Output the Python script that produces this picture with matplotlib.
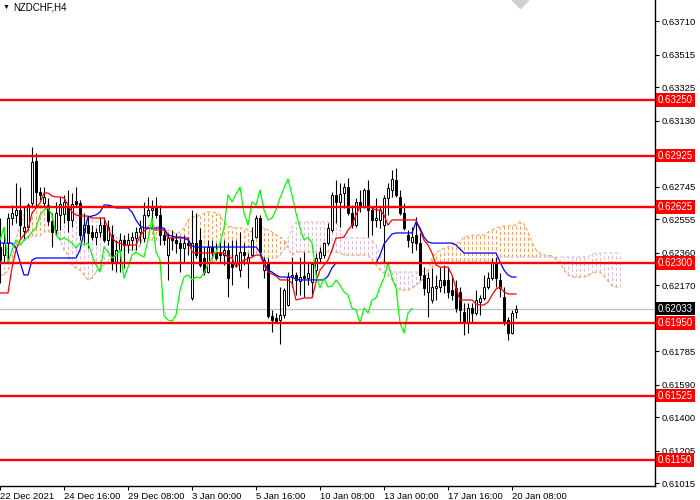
import numpy as np
import matplotlib.pyplot as plt
from matplotlib.transforms import blended_transform_factory

plt.rcParams['font.family'] = ['Liberation Sans', 'DejaVu Sans']

symbol = "NZDCHF,H4"

# H4 candles, bar 0 = 22 Dec 2021 00:00
opens = [
    0.62392, 0.62345, 0.62415, 0.62561, 0.62579, 0.62608, 0.62485, 0.62509, 0.62649, 0.62894,
    0.62713, 0.62649, 0.62637, 0.62544, 0.62491, 0.62579, 0.62585, 0.62626, 0.62550, 0.62661,
    0.62649, 0.62480, 0.62520, 0.62480, 0.62450, 0.62480, 0.62520, 0.62433, 0.62462, 0.62299,
    0.62375, 0.62433, 0.62404, 0.62433, 0.62445, 0.62480, 0.62445, 0.62579, 0.62608, 0.62620,
    0.62579, 0.62462, 0.62345, 0.62445, 0.62433, 0.62415, 0.62386, 0.62415, 0.62095, 0.62415,
    0.62433, 0.62328, 0.62246, 0.62392, 0.62363, 0.62363, 0.62345, 0.62375, 0.62305, 0.62305,
    0.62258, 0.62363, 0.62305, 0.62345, 0.62450, 0.62561, 0.62258, 0.62305, 0.61990, 0.61978,
    0.61966, 0.61995, 0.62054, 0.62217, 0.62229, 0.62194, 0.62223, 0.62211, 0.62188, 0.62258,
    0.62328, 0.62345, 0.62415, 0.62491, 0.62696, 0.62655, 0.62707, 0.62742, 0.62590, 0.62520,
    0.62655, 0.62626, 0.62725, 0.62608, 0.62550, 0.62550, 0.62520, 0.62678, 0.62725, 0.62783,
    0.62684, 0.62590, 0.62462, 0.62421, 0.62462, 0.62415, 0.62229, 0.62130, 0.62083, 0.62153,
    0.62159, 0.62200, 0.62200, 0.62141, 0.62153, 0.62130, 0.62013, 0.61955, 0.62036, 0.62007,
    0.62071, 0.62095, 0.62159, 0.62211, 0.62305, 0.62200, 0.62100, 0.61966, 0.61890, 0.62013,
]
highs = [
    0.62561, 0.62503, 0.62590, 0.62637, 0.62766, 0.62742, 0.62626, 0.62649, 0.62975, 0.62941,
    0.62742, 0.62742, 0.62678, 0.62590, 0.62655, 0.62684, 0.62696, 0.62725, 0.62707, 0.62742,
    0.62666, 0.62590, 0.62567, 0.62520, 0.62503, 0.62567, 0.62567, 0.62550, 0.62520, 0.62433,
    0.62474, 0.62462, 0.62474, 0.62480, 0.62509, 0.62550, 0.62655, 0.62684, 0.62666, 0.62684,
    0.62637, 0.62503, 0.62474, 0.62491, 0.62474, 0.62445, 0.62462, 0.62450, 0.62608, 0.62590,
    0.62503, 0.62392, 0.62433, 0.62433, 0.62415, 0.62433, 0.62433, 0.62415, 0.62433, 0.62433,
    0.62480, 0.62415, 0.62357, 0.62509, 0.62579, 0.62579, 0.62334, 0.62328, 0.62025, 0.62007,
    0.62159, 0.62153, 0.62246, 0.62334, 0.62246, 0.62334, 0.62363, 0.62299, 0.62299, 0.62357,
    0.62392, 0.62421, 0.62532, 0.62713, 0.62783, 0.62766, 0.62766, 0.62795, 0.62637, 0.62678,
    0.62725, 0.62736, 0.62783, 0.62626, 0.62678, 0.62626, 0.62696, 0.62766, 0.62841, 0.62853,
    0.62725, 0.62649, 0.62491, 0.62509, 0.62567, 0.62474, 0.62275, 0.62246, 0.62270, 0.62229,
    0.62275, 0.62287, 0.62275, 0.62217, 0.62200, 0.62159, 0.62065, 0.62065, 0.62065, 0.62141,
    0.62112, 0.62229, 0.62246, 0.62328, 0.62334, 0.62240, 0.62159, 0.61984, 0.62025, 0.62054,
]
lows = [
    0.62182, 0.62305, 0.62299, 0.62520, 0.62532, 0.62450, 0.62433, 0.62491, 0.62626, 0.62626,
    0.62666, 0.62626, 0.62520, 0.62392, 0.62462, 0.62491, 0.62532, 0.62480, 0.62509, 0.62626,
    0.62433, 0.62415, 0.62386, 0.62433, 0.62404, 0.62450, 0.62421, 0.62404, 0.62258, 0.62246,
    0.62246, 0.62270, 0.62357, 0.62375, 0.62375, 0.62415, 0.62421, 0.62567, 0.62509, 0.62561,
    0.62404, 0.62404, 0.62200, 0.62375, 0.62357, 0.62246, 0.62305, 0.62345, 0.62083, 0.62328,
    0.62275, 0.62229, 0.62240, 0.62328, 0.62316, 0.62305, 0.62287, 0.62100, 0.62170, 0.62275,
    0.62217, 0.62287, 0.62153, 0.62334, 0.62445, 0.62345, 0.62211, 0.61978, 0.61896, 0.61955,
    0.61826, 0.61978, 0.62048, 0.62159, 0.62112, 0.62112, 0.62100, 0.62170, 0.62100, 0.62200,
    0.62299, 0.62328, 0.62404, 0.62480, 0.62532, 0.62509, 0.62620, 0.62579, 0.62503, 0.62509,
    0.62596, 0.62620, 0.62450, 0.62462, 0.62509, 0.62503, 0.62299, 0.62579, 0.62684, 0.62684,
    0.62579, 0.62491, 0.62392, 0.62357, 0.62375, 0.62200, 0.62112, 0.61984, 0.62065, 0.62083,
    0.62130, 0.62124, 0.62095, 0.62083, 0.62013, 0.61955, 0.61879, 0.61890, 0.61955, 0.61995,
    0.61995, 0.62083, 0.62147, 0.62200, 0.62159, 0.62100, 0.61937, 0.61850, 0.61885, 0.61978,
]
closes = [
    0.62316, 0.62415, 0.62561, 0.62590, 0.62608, 0.62520, 0.62509, 0.62637, 0.62888, 0.62713,
    0.62696, 0.62684, 0.62544, 0.62480, 0.62590, 0.62643, 0.62655, 0.62550, 0.62643, 0.62643,
    0.62462, 0.62520, 0.62474, 0.62450, 0.62480, 0.62520, 0.62433, 0.62509, 0.62299, 0.62375,
    0.62433, 0.62404, 0.62433, 0.62450, 0.62480, 0.62503, 0.62579, 0.62608, 0.62620, 0.62579,
    0.62462, 0.62433, 0.62445, 0.62433, 0.62415, 0.62386, 0.62415, 0.62404, 0.62415, 0.62345,
    0.62287, 0.62246, 0.62392, 0.62363, 0.62328, 0.62345, 0.62375, 0.62211, 0.62275, 0.62345,
    0.62363, 0.62345, 0.62334, 0.62433, 0.62561, 0.62363, 0.62316, 0.61990, 0.61966, 0.61960,
    0.61995, 0.62141, 0.62217, 0.62229, 0.62200, 0.62217, 0.62211, 0.62240, 0.62293, 0.62328,
    0.62363, 0.62415, 0.62503, 0.62696, 0.62655, 0.62701, 0.62742, 0.62590, 0.62520, 0.62655,
    0.62637, 0.62725, 0.62608, 0.62550, 0.62561, 0.62608, 0.62678, 0.62736, 0.62789, 0.62696,
    0.62590, 0.62503, 0.62433, 0.62450, 0.62415, 0.62229, 0.62153, 0.62211, 0.62159, 0.62165,
    0.62200, 0.62170, 0.62130, 0.62112, 0.62036, 0.62025, 0.61949, 0.62036, 0.62007, 0.62083,
    0.62095, 0.62159, 0.62211, 0.62299, 0.62211, 0.62153, 0.61949, 0.61890, 0.62007, 0.62033,
]

# Ichimoku lines
tenkan = [
    0.62124, 0.62124, 0.62124, 0.62270, 0.62375, 0.62433, 0.62462, 0.62491, 0.62590, 0.62620,
    0.62649, 0.62707, 0.62707, 0.62690, 0.62684, 0.62684, 0.62678, 0.62637, 0.62596, 0.62579,
    0.62573, 0.62573, 0.62573, 0.62561, 0.62561, 0.62561, 0.62561, 0.62503, 0.62445, 0.62421,
    0.62415, 0.62404, 0.62404, 0.62404, 0.62404, 0.62456, 0.62485, 0.62503, 0.62497, 0.62491,
    0.62491, 0.62491, 0.62445, 0.62445, 0.62445, 0.62445, 0.62445, 0.62445, 0.62363, 0.62357,
    0.62357, 0.62357, 0.62357, 0.62357, 0.62357, 0.62357, 0.62357, 0.62334, 0.62328, 0.62275,
    0.62299, 0.62316, 0.62322, 0.62334, 0.62345, 0.62345, 0.62287, 0.62246, 0.62235, 0.62223,
    0.62200, 0.62200, 0.62200, 0.62182, 0.62083, 0.62089, 0.62095, 0.62095, 0.62095, 0.62188,
    0.62258, 0.62287, 0.62316, 0.62375, 0.62445, 0.62445, 0.62450, 0.62491, 0.62520, 0.62579,
    0.62626, 0.62626, 0.62626, 0.62620, 0.62608, 0.62608, 0.62579, 0.62520, 0.62550, 0.62550,
    0.62550, 0.62550, 0.62550, 0.62550, 0.62550, 0.62491, 0.62433, 0.62404, 0.62357, 0.62287,
    0.62275, 0.62275, 0.62275, 0.62229, 0.62153, 0.62083, 0.62083, 0.62083, 0.62083, 0.62060,
    0.62054, 0.62054, 0.62071, 0.62112, 0.62147, 0.62159, 0.62130, 0.62118, 0.62118, 0.62118,
]
kijun = [
    0.62415, 0.62415, 0.62415, 0.62415, 0.62386, 0.62305, 0.62229, 0.62229, 0.62316, 0.62328,
    0.62328, 0.62328, 0.62328, 0.62328, 0.62328, 0.62328, 0.62328, 0.62328, 0.62328, 0.62328,
    0.62375, 0.62480, 0.62567, 0.62573, 0.62579, 0.62596, 0.62637, 0.62637, 0.62631, 0.62620,
    0.62620, 0.62620, 0.62620, 0.62596, 0.62550, 0.62515, 0.62503, 0.62503, 0.62503, 0.62503,
    0.62503, 0.62503, 0.62462, 0.62456, 0.62450, 0.62450, 0.62445, 0.62433, 0.62398, 0.62392,
    0.62392, 0.62392, 0.62392, 0.62392, 0.62392, 0.62392, 0.62392, 0.62392, 0.62392, 0.62392,
    0.62392, 0.62392, 0.62392, 0.62392, 0.62392, 0.62363, 0.62305, 0.62258, 0.62246, 0.62229,
    0.62217, 0.62217, 0.62217, 0.62217, 0.62205, 0.62200, 0.62200, 0.62200, 0.62200, 0.62200,
    0.62200, 0.62200, 0.62223, 0.62270, 0.62299, 0.62299, 0.62299, 0.62299, 0.62299, 0.62299,
    0.62299, 0.62299, 0.62299, 0.62299, 0.62299, 0.62345, 0.62410, 0.62439, 0.62468, 0.62474,
    0.62474, 0.62474, 0.62474, 0.62474, 0.62538, 0.62503, 0.62450, 0.62421, 0.62415, 0.62415,
    0.62415, 0.62415, 0.62415, 0.62415, 0.62404, 0.62380, 0.62357, 0.62357, 0.62357, 0.62357,
    0.62357, 0.62357, 0.62357, 0.62357, 0.62357, 0.62305, 0.62258, 0.62229, 0.62217, 0.62217,
]
span_a = [
    0.62229, 0.62229, 0.62258, 0.62305, 0.62433, 0.62520, 0.62579, 0.62620, 0.62637, 0.62637,
    0.62637, 0.62626, 0.62608, 0.62561, 0.62520, 0.62433, 0.62375, 0.62345, 0.62287, 0.62270,
    0.62258, 0.62229, 0.62200, 0.62211, 0.62246, 0.62270, 0.62287, 0.62305, 0.62328, 0.62345,
    0.62363, 0.62375, 0.62375, 0.62375, 0.62375, 0.62398, 0.62480, 0.62515, 0.62520, 0.62520,
    0.62509, 0.62491, 0.62491, 0.62480, 0.62468, 0.62480, 0.62503, 0.62550, 0.62567, 0.62567,
    0.62579, 0.62590, 0.62596, 0.62596, 0.62590, 0.62579, 0.62538, 0.62515, 0.62509, 0.62503,
    0.62503, 0.62503, 0.62491, 0.62480, 0.62491, 0.62503, 0.62503, 0.62491, 0.62480, 0.62462,
    0.62450, 0.62433, 0.62386, 0.62345, 0.62363, 0.62363, 0.62363, 0.62363, 0.62363, 0.62363,
    0.62363, 0.62363, 0.62363, 0.62363, 0.62363, 0.62357, 0.62345, 0.62345, 0.62345, 0.62345,
    0.62345, 0.62345, 0.62345, 0.62316, 0.62287, 0.62258, 0.62240, 0.62229, 0.62200, 0.62165,
    0.62141, 0.62141, 0.62141, 0.62153, 0.62170, 0.62188, 0.62211, 0.62246, 0.62328, 0.62357,
    0.62375, 0.62386, 0.62392, 0.62404, 0.62415, 0.62421, 0.62450, 0.62456, 0.62462, 0.62462,
    0.62462, 0.62462, 0.62480, 0.62491, 0.62503, 0.62509, 0.62515, 0.62515, 0.62520, 0.62520,
    0.62538, 0.62526, 0.62480, 0.62421, 0.62375, 0.62357, 0.62345, 0.62345, 0.62340, 0.62322,
    0.62299, 0.62258, 0.62229, 0.62217, 0.62217, 0.62217, 0.62217, 0.62223, 0.62240, 0.62246,
    0.62246, 0.62223, 0.62194, 0.62165, 0.62159, 0.62159,
]
span_b = [
    0.62375, 0.62375, 0.62386, 0.62404, 0.62404, 0.62404, 0.62433, 0.62445, 0.62456, 0.62456,
    0.62456, 0.62480, 0.62480, 0.62491, 0.62579, 0.62590, 0.62590, 0.62590, 0.62590, 0.62590,
    0.62590, 0.62579, 0.62561, 0.62550, 0.62538, 0.62538, 0.62520, 0.62503, 0.62480, 0.62456,
    0.62433, 0.62433, 0.62433, 0.62433, 0.62433, 0.62433, 0.62433, 0.62433, 0.62433, 0.62433,
    0.62433, 0.62433, 0.62433, 0.62427, 0.62421, 0.62421, 0.62421, 0.62404, 0.62375, 0.62345,
    0.62328, 0.62316, 0.62316, 0.62305, 0.62316, 0.62328, 0.62334, 0.62340, 0.62340, 0.62334,
    0.62334, 0.62345, 0.62357, 0.62357, 0.62357, 0.62345, 0.62328, 0.62328, 0.62328, 0.62328,
    0.62345, 0.62375, 0.62445, 0.62503, 0.62538, 0.62538, 0.62538, 0.62538, 0.62538, 0.62538,
    0.62538, 0.62538, 0.62538, 0.62538, 0.62538, 0.62491, 0.62445, 0.62445, 0.62445, 0.62445,
    0.62445, 0.62445, 0.62445, 0.62433, 0.62404, 0.62345, 0.62305, 0.62270, 0.62246, 0.62246,
    0.62246, 0.62246, 0.62246, 0.62246, 0.62246, 0.62246, 0.62252, 0.62258, 0.62270, 0.62287,
    0.62305, 0.62310, 0.62310, 0.62310, 0.62310, 0.62310, 0.62310, 0.62310, 0.62310, 0.62310,
    0.62310, 0.62310, 0.62310, 0.62310, 0.62310, 0.62334, 0.62334, 0.62334, 0.62334, 0.62334,
    0.62334, 0.62334, 0.62334, 0.62334, 0.62334, 0.62334, 0.62334, 0.62334, 0.62334, 0.62334,
    0.62334, 0.62334, 0.62334, 0.62334, 0.62334, 0.62334, 0.62334, 0.62334, 0.62351, 0.62357,
    0.62357, 0.62357, 0.62357, 0.62357, 0.62357, 0.62357,
]
chikou_shift = 26

levels = [0.63250, 0.62925, 0.62625, 0.62300, 0.61950, 0.61525, 0.61150]
bid = 0.62033
price_ticks = [0.63710, 0.63515, 0.63325, 0.63130, 0.62935, 0.62745, 0.62555, 0.62360,
               0.62170, 0.61975, 0.61785, 0.61590, 0.61400, 0.61205, 0.61015]
hidden_ticks = [0.62935, 0.61975]   # covered by the level labels
time_bars = [0, 16, 32, 48, 64, 80, 96, 112, 128]
time_labels = ["22 Dec 2021", "24 Dec 16:00", "29 Dec 08:00", "3 Jan 00:00", "5 Jan 16:00",
               "10 Jan 08:00", "13 Jan 00:00", "17 Jan 16:00", "20 Jan 08:00"]

o = np.array(opens)
h = np.array(highs)
l = np.array(lows)
c = np.array(closes)
sa = np.array(span_a)
sb = np.array(span_b)
x = np.arange(len(o))
xc = np.arange(len(sa))

fig = plt.figure(figsize=(7, 5), dpi=100)
ax = fig.add_axes([0, 14 / 500, 655 / 700, 486 / 500])
ax.set_xlim(0, 163.75)
ax.set_ylim(0.60998, 0.63833)

# cloud, drawn as dotted vertical strokes per bar
dot = (0, (3, 2))
up = sa >= sb
ax.vlines(xc[up], sb[up], sa[up], colors='#F4A460', linestyles=dot, lw=0.8, zorder=1)
ax.vlines(xc[~up], sa[~up], sb[~up], colors='#D8BFD8', linestyles=dot, lw=0.8, zorder=1)
ax.plot(xc, sb, color='#D8BFD8', ls=dot, lw=0.8, zorder=1)
ax.plot(xc, sa, color='#F4A460', ls=dot, lw=0.8, zorder=1)

ax.axhline(bid, color='#C0C0C0', lw=0.9, zorder=2)

# candles
bull = c >= o
ax.vlines(x, l, h, color='black', lw=0.8, zorder=3)
ax.bar(x, np.abs(c - o), bottom=np.minimum(o, c), width=0.7,
       color=np.where(bull, 'white', 'black'), edgecolor='black', lw=0.7, zorder=4)

ax.plot(x, tenkan, color='red', lw=0.9, zorder=5)
ax.plot(x, kijun, color='blue', lw=0.9, zorder=5)
ax.plot(x[:-chikou_shift], c[chikou_shift:], color='#00FF00', lw=0.9, zorder=5)

for lv in levels:
    ax.axhline(lv, color='red', lw=1.7, zorder=6)

# axes look
for s in ['top', 'left']:
    ax.spines[s].set_visible(False)
for s in ['right', 'bottom']:
    ax.spines[s].set_color('black')
    ax.spines[s].set_linewidth(1.0)

ax.yaxis.tick_right()
ax.set_yticks(price_ticks)
ax.set_yticklabels(["" if v in hidden_ticks else f"{v:.5f}" for v in price_ticks])
ax.tick_params(axis='y', direction='out', length=3, pad=2, labelsize=6.8, colors='black')
ax.set_xticks(time_bars)
ax.set_xticklabels(time_labels)
ax.tick_params(axis='x', direction='out', length=3, pad=1, labelsize=6.8)
for lab in ax.get_xticklabels():
    lab.set_horizontalalignment('left')

trans = blended_transform_factory(ax.transAxes, ax.transData)
for lv in levels:
    ax.text(1.0 + 3 / 655, lv, f"{lv:.5f}", transform=trans, color='white', fontsize=7,
            va='center', ha='left', clip_on=False, zorder=10,
            bbox=dict(boxstyle='square,pad=0.18', fc='red', ec='none'))
ax.text(1.0 + 3 / 655, bid, f"{bid:.5f}", transform=trans, color='white', fontsize=7,
        va='center', ha='left', clip_on=False, zorder=10,
        bbox=dict(boxstyle='square,pad=0.18', fc='black', ec='none'))

# chart shift marker and symbol caption
ax.plot([130], [0.63833], marker='D', color='#D0D0D0', markersize=8, clip_on=True, zorder=7)
fig.text(3 / 700, 1 - 7 / 500, '\u25BC', fontsize=5, va='center', ha='left')
fig.text(13 / 700, 1 - 7 / 500, symbol, fontsize=7, va='center', ha='left')

fig.savefig('out.png', dpi=100)
